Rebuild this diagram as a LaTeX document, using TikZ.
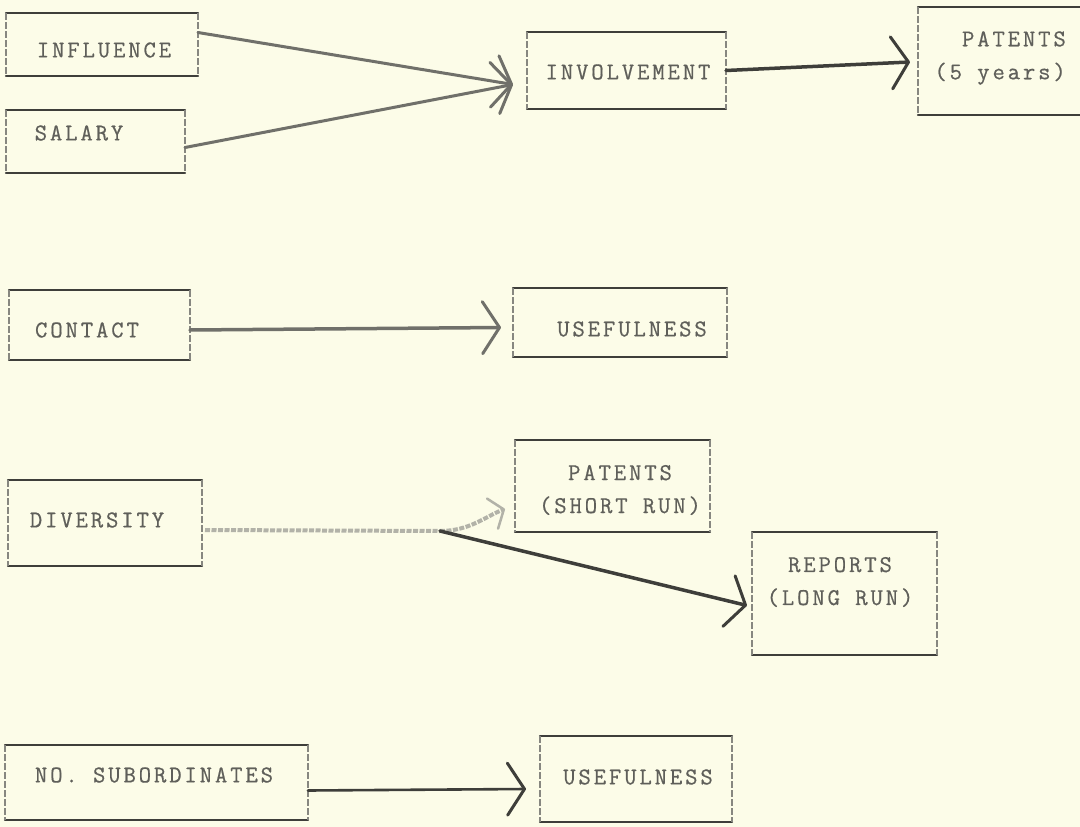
\documentclass[tikz,border=0pt]{standalone}
\usepackage{fontspec}
\newfontfamily\typew{Latin Modern Mono}[LetterSpace=12,FakeBold=0.6]
\usetikzlibrary{arrows.meta}
\definecolor{paper}{RGB}{252,252,232}
\definecolor{ink}{RGB}{62,62,58}
\definecolor{inkside}{RGB}{135,135,128}
\definecolor{txt}{RGB}{95,95,90}
\definecolor{grayarrow}{RGB}{112,112,106}
\definecolor{lightarrow}{RGB}{178,178,168}
\newcommand\boxedges[1]{%
  \draw[edgeh] (#1.north west) -- (#1.north east);
  \draw[edgeh] (#1.south west) -- (#1.south east);
  \draw[edgev] (#1.north west) -- (#1.south west);
  \draw[edgev] (#1.north east) -- (#1.south east);}
\begin{document}
\begin{tikzpicture}[x=1pt,y=-1pt,
  boxn/.style={draw=none, inner sep=0pt, outer sep=0pt},
  edgeh/.style={draw=ink, line width=2.4pt, line cap=round},
  edgev/.style={draw=inkside, line width=1.3pt, dash pattern=on 7pt off 2pt},
  lab/.style={font=\typew\fontsize{24}{33}\selectfont, text=txt, inner sep=0pt, align=center},
  tipbig/.style={-{Straight Barb[length=17pt,width=52pt,line width=3pt,round]}},
  tipsmall/.style={-{Straight Barb[length=12pt,width=32pt,line width=2.5pt,round]}},
  darkline/.style={draw=ink, line width=3.5pt, line cap=round, tipbig},
  thinline/.style={draw=ink, line width=2.6pt, line cap=round, tipbig},
  grayline/.style={draw=grayarrow, line width=3pt, line cap=round, tipbig},
  lightline/.style={draw=lightarrow, line width=4pt, dash pattern=on 5pt off 1.5pt}
]
\useasboundingbox (0,0) rectangle (1080,827);
\clip (0,0) rectangle (1080,827);
\fill[paper] (0,0) rectangle (1080,827);

% boxes
\node[boxn, minimum width=192pt, minimum height=63pt] (inf) at (102,44.5) {};
\node[boxn, minimum width=179pt, minimum height=63pt] (sal) at (95.5,141.5) {};
\node[boxn, minimum width=199pt, minimum height=77pt] (inv) at (626.5,70.5) {};
\node[boxn, minimum width=170pt, minimum height=108pt] (pat) at (1003,61) {};
\node[boxn, minimum width=181pt, minimum height=70pt] (con) at (99.5,325) {};
\node[boxn, minimum width=214pt, minimum height=69pt] (usea) at (620,322.5) {};
\node[boxn, minimum width=195pt, minimum height=92pt] (psr) at (612.5,486) {};
\node[boxn, minimum width=194pt, minimum height=86pt] (div) at (105,523) {};
\node[boxn, minimum width=185pt, minimum height=123pt] (rep) at (844.5,593.5) {};
\node[boxn, minimum width=303pt, minimum height=75pt] (nos) at (156.5,782.5) {};
\node[boxn, minimum width=192pt, minimum height=86pt] (useb) at (636,779) {};
\foreach \b in {inf,sal,inv,pat,con,usea,psr,div,rep,nos,useb}{\boxedges{\b}}

% texts
\node[lab] (infT) at (104,50) {INFLUENCE};
\node[lab] (salT) at (79,133) {SALARY};
\node[lab] (invT) at (628,72) {INVOLVEMENT};
\node[lab, align=right, anchor=east] (patT) at (1066,58) {PATENTS\\(5 years)};
\node[lab] (conT) at (87,330) {CONTACT};
\node[lab] (useaT) at (632,329) {USEFULNESS};
\node[lab] (psrT) at (620,490) {PATENTS\\(SHORT RUN)};
\node[lab] (divT) at (97,520) {DIVERSITY};
\node[lab] (repT) at (840,582) {REPORTS\\(LONG RUN)};
\node[lab] (nosT) at (154,775) {NO.\ SUBORDINATES};
\node[lab] (usebT) at (638,777) {USEFULNESS};

% connector points
\coordinate (invin) at ([xshift=-14pt,yshift=-14pt]inv.west);
\coordinate (patin) at ([xshift=-8pt,yshift=-1pt]pat.west);
\coordinate (usein) at ([xshift=-12pt,yshift=-5pt]usea.west);
\coordinate (j) at ([xshift=238pt,yshift=-8pt]div.east);
\coordinate (psrin) at ([xshift=-10pt,yshift=-23pt]psr.west);
\coordinate (repin) at ([xshift=-5pt,yshift=-12pt]rep.west);
\coordinate (usebin) at ([xshift=-14pt,yshift=-10pt]useb.west);

% connectors
\draw[grayline] ([yshift=12pt]inf.east) -- (invin);
\draw[grayline] ([yshift=-6pt]sal.east) -- (invin);
\draw[darkline] (inv.east) -- (patin);
\draw[grayline, line width=3.5pt] ([yshift=-5pt]con.east) -- (usein);
\draw[lightline] ([xshift=3pt,yshift=-7pt]div.east) -- (j);
\draw[lightline, tipsmall] (j) .. controls (470,531) and (486,516) .. (psrin);
\draw[darkline] (j) -- (repin);
\draw[thinline] ([yshift=-8pt]nos.east) -- (usebin);
\end{tikzpicture}
\end{document}
